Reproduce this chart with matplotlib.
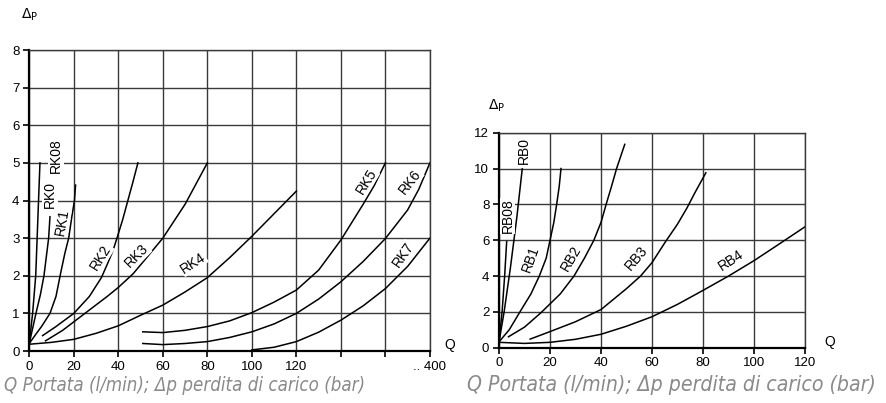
import matplotlib.pyplot as plt
from matplotlib import font_manager

plt.rcParams['font.family'] = ['Liberation Sans', 'DejaVu Sans']

# left chart: RK series (x in grid units, last column labelled ".. 400")
rk_x_ticks = [0, 20, 40, 60, 80, 100, 120, 140, 160, 180]
rk_x_labels = ["0", "20", "40", "60", "80", "100", "120", "", "", ".. 400"]

rk08_q = [0, 1.5, 2.9, 4.8]
rk08_p = [0.2, 1.0, 2.0, 5.0]
rk0_q = [0, 1.5, 3, 5, 6.6, 8.7, 9.3]
rk0_p = [0.2, 0.6, 1.0, 1.5, 2.0, 3.0, 3.57]
rk1_q = [0, 3, 5.5, 9.3, 12, 14.2, 16, 17.7, 19.2, 20.3, 20.8]
rk1_p = [0.2, 0.45, 0.65, 1.0, 1.45, 2.1, 2.6, 3.0, 3.6, 4.0, 4.41]
rk2_q = [6, 12, 20, 27, 32.4, 35, 37.5, 39.4, 42, 44.3, 46.6, 48.8]
rk2_p = [0.41, 0.65, 1.0, 1.45, 1.95, 2.3, 2.65, 3.0, 3.5, 4.0, 4.5, 5.0]
rk3_q = [7.3, 15, 25, 35, 40, 46.6, 53, 60, 70, 80]
rk3_p = [0.27, 0.55, 1.0, 1.45, 1.69, 2.05, 2.5, 3.0, 3.9, 5.0]
rk4_q = [0, 10, 20, 30, 40, 50, 60, 70, 80, 90, 100, 110, 120]
rk4_p = [0.18, 0.23, 0.31, 0.47, 0.67, 0.95, 1.22, 1.57, 1.95, 2.48, 3.05, 3.65, 4.25]
rk5_q = [51, 60, 70, 80, 90, 100, 110, 120, 130, 140, 150, 155, 160]
rk5_p = [0.51, 0.49, 0.55, 0.65, 0.8, 1.02, 1.3, 1.62, 2.15, 2.95, 3.9, 4.4, 5.0]
rk6_q = [51, 60, 70, 80, 90, 100, 110, 120, 130, 140, 150, 160, 170, 175, 180]
rk6_p = [0.2, 0.17, 0.2, 0.25, 0.36, 0.51, 0.72, 1.0, 1.38, 1.84, 2.38, 2.99, 3.75, 4.3, 5.0]
rk7_q = [100, 110, 120, 130, 140, 150, 160, 170, 180]
rk7_p = [0.03, 0.1, 0.25, 0.5, 0.82, 1.2, 1.66, 2.25, 3.0]

rk_series = [(rk08_q, rk08_p), (rk0_q, rk0_p), (rk1_q, rk1_p), (rk2_q, rk2_p),
             (rk3_q, rk3_p), (rk4_q, rk4_p), (rk5_q, rk5_p), (rk6_q, rk6_p),
             (rk7_q, rk7_p)]
rk_names = ["RK08", "RK0", "RK1", "RK2", "RK3", "RK4", "RK5", "RK6", "RK7"]
rk_label_x = [12, 9.3, 14.7, 32.2, 48.4, 73.5, 151.4, 171, 168]
rk_label_y = [5.2, 4.15, 3.43, 2.5, 2.53, 2.34, 4.5, 4.5, 2.55]
rk_label_rot = [90, 90, 80, 58, 45, 33, 58, 52, 55]

# right chart: RB series
rb08_q = [0, 1.2, 2.2, 3.0]
rb08_p = [0.33, 2.0, 4.0, 5.92]
rb0_q = [0, 2, 4.5, 7, 9.1]
rb0_p = [0.33, 2.0, 4.5, 7.3, 9.98]
rb1_q = [0, 4, 8.2, 12.5, 15.8, 18.5, 20, 21.5, 22.6, 23.6, 24.3]
rb1_p = [0.33, 1.0, 2.0, 3.0, 4.0, 5.0, 6.0, 7.0, 8.0, 9.0, 10.0]
rb2_q = [3.7, 10, 16.35, 24, 29.4, 33.5, 37.2, 40, 42, 44.1, 46.1, 49.3]
rb2_p = [0.61, 1.15, 1.94, 3.0, 4.0, 5.0, 6.0, 7.0, 8.0, 9.0, 10.0, 11.35]
rb3_q = [12.2, 20, 30, 40, 50, 55.5, 60, 65.2, 70, 73.7, 77, 81.1]
rb3_p = [0.48, 0.9, 1.45, 2.13, 3.3, 4.0, 4.75, 5.9, 6.9, 7.8, 8.7, 9.76]
rb4_q = [0, 10, 20, 30, 40, 50, 60, 70, 80, 90, 100, 110, 120]
rb4_p = [0.3, 0.24, 0.3, 0.47, 0.75, 1.2, 1.73, 2.42, 3.2, 4.0, 4.86, 5.8, 6.75]

rb_series = [(rb08_q, rb08_p), (rb0_q, rb0_p), (rb1_q, rb1_p), (rb2_q, rb2_p),
             (rb3_q, rb3_p), (rb4_q, rb4_p)]
rb_names = ["RB08", "RB0", "RB1", "RB2", "RB3", "RB4"]
rb_label_x = [3.3, 9.6, 12.5, 28.2, 53.9, 91]
rb_label_y = [7.36, 11.0, 4.93, 5.0, 5.0, 4.87]
rb_label_rot = [90, 90, 70, 60, 50, 33]

caption = "Q Portata (l/min); \u0394p perdita di carico (bar)"

fig = plt.figure(figsize=(8.87, 4.03), dpi=100)
ax1 = fig.add_axes([0.0330, 0.1290, 0.4517, 0.7469])
ax2 = fig.add_axes([0.5626, 0.1372, 0.3450, 0.5335])


def style_axes(ax, xticks, yticks):
    ax.set_xticks(xticks)
    ax.set_yticks(yticks)
    ax.grid(True, color='#3a3a3a', lw=1.0)
    ax.set_axisbelow(True)
    for s in ['top', 'right']:
        ax.spines[s].set_color('#3a3a3a')
        ax.spines[s].set_linewidth(1.0)
    for s in ['left', 'bottom']:
        ax.spines[s].set_color('black')
        ax.spines[s].set_linewidth(1.6)
    ax.tick_params(direction='out', length=4, width=1.2, labelsize=9.5,
                   colors='black', pad=3)


for (q, p) in rk_series:
    ax1.plot(q, p, color='black', lw=1.1)
for name, x, y, r in zip(rk_names, rk_label_x, rk_label_y, rk_label_rot):
    ax1.text(x, y, name, rotation=r, ha='center', va='center', fontsize=10,
             bbox=dict(facecolor='white', edgecolor='none', pad=0.5))
ax1.set_xlim(0, 180)
ax1.set_ylim(0, 8)
style_axes(ax1, rk_x_ticks, range(0, 9))
ax1.set_xticklabels(rk_x_labels)

for (q, p) in rb_series:
    ax2.plot(q, p, color='black', lw=1.1)
for name, x, y, r in zip(rb_names, rb_label_x, rb_label_y, rb_label_rot):
    ax2.text(x, y, name, rotation=r, ha='center', va='center', fontsize=10,
             bbox=dict(facecolor='white', edgecolor='none', pad=0.5))
ax2.set_xlim(0, 120)
ax2.set_ylim(0, 12)
style_axes(ax2, range(0, 121, 20), range(0, 13, 2))

# axis names
fig.text(0.033, 0.963, r'$\Delta_{\mathrm{P}}$', ha='center', va='center', fontsize=10)
fig.text(0.560, 0.737, r'$\Delta_{\mathrm{P}}$', ha='center', va='center', fontsize=10)
fig.text(0.507, 0.144, "Q", ha='center', va='center', fontsize=10)
fig.text(0.936, 0.151, "Q", ha='center', va='center', fontsize=10)

# captions, in a narrow italic face, sized to the widths seen in the picture
names = {f.name for f in font_manager.fontManager.ttflist}
if 'Liberation Sans Narrow' in names:
    cap_kw = dict(family=['Liberation Sans Narrow', 'DejaVu Sans'])
else:
    cap_kw = dict(family=['DejaVu Sans'], fontstretch='condensed')

renderer = fig.canvas.get_renderer()
for cx, width_px in [(0.004, 359), (0.527, 408)]:
    t = fig.text(cx, 0.030, caption, ha='left', va='baseline', fontsize=13,
                 style='italic', color='#8a8a8a', **cap_kw)
    w = t.get_window_extent(renderer).width
    t.set_fontsize(13 * width_px / w)

fig.savefig("out.png", dpi=100)
